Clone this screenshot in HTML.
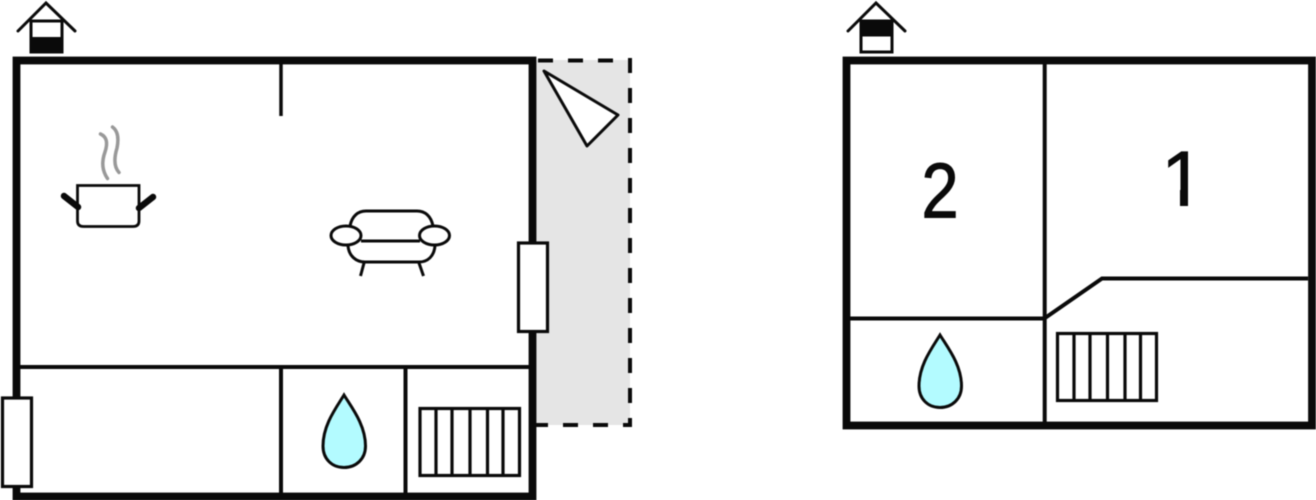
<!DOCTYPE html>
<html>
<head>
<meta charset="utf-8">
<style>
html,body{margin:0;padding:0;background:#fff;width:1316px;height:500px;overflow:hidden}
svg{display:block}
text{font-family:"Liberation Sans",sans-serif;fill:#0a0a0a}
</style>
</head>
<body>
<svg width="1316" height="500" viewBox="0 0 1316 500" xmlns="http://www.w3.org/2000/svg">
<defs>
  <clipPath id="oneClip"><rect x="1150" y="140" width="38" height="58"/></clipPath>
</defs>
<g style="filter:blur(0.4px)" fill="none" stroke="#0a0a0a" stroke-linejoin="miter">
  <!-- Balcony -->
  <rect x="536" y="60" width="94" height="365" fill="#e5e5e5" stroke="none"/>
  <path d="M538 60.500H630" stroke-width="4" stroke-dasharray="15 15"/>
  <path d="M630 58V425" stroke-width="4" stroke-dasharray="15 15"/>
  <path d="M536 425H548M563 425H578M593 425H608M623 425H632" stroke-width="4"/>
  <polygon points="544,71 618,115 587,146" fill="#fff" stroke-width="3" stroke-linejoin="round"/>

  <!-- Left plan interior -->
  <path d="M20 367H529" stroke-width="4"/>
  <path d="M281 367V493M405.500 367V493" stroke-width="4"/>
  <path d="M281 64V116" stroke-width="3.500"/>
  <!-- Left plan walls -->
  <rect x="16.500" y="60.500" width="516" height="436" stroke-width="7.800"/>

  <!-- Doors -->
  <rect x="518.500" y="243" width="29" height="88.500" fill="#fff" stroke-width="3.200"/>
  <rect x="2.500" y="398" width="29" height="88.500" fill="#fff" stroke-width="3.200"/>

  <!-- Left house icon -->
  <path d="M18 31L46 3L75 31" stroke-width="3" stroke-linecap="round"/>
  <rect x="31" y="21" width="31" height="31" fill="#fff" stroke-width="3"/>
  <rect x="30" y="37" width="33" height="16" fill="#0a0a0a" stroke="none"/>

  <!-- Pot -->
  <path d="M77.500 185.500H139V221Q139 226.500 133 226.500H83.500Q77.500 226.500 77.500 221Z" fill="#fff" stroke-width="2.800"/>
  <path d="M64 196L78 207" stroke-width="6.500" stroke-linecap="round"/>
  <path d="M153 197L139 208" stroke-width="6.500" stroke-linecap="round"/>
  <path d="M100.500 134C107 137 108 143 105 152C101 163 103 172 107.500 178.500" stroke="#999" stroke-width="3.500" stroke-linecap="round"/>
  <path d="M112.500 127C118 131 119 138 117 148C114 158 114 167 119 172.500" stroke="#999" stroke-width="3.500" stroke-linecap="round"/>

  <!-- Sofa -->
  <path d="M350 226C352 216 358 211 366 211H417C425 211 431 216 433 226" stroke-width="3"/>
  <path d="M348 246C349 256 356 262 365 262H419C428 262 434 256 435 246" stroke-width="3"/>
  <path d="M361 241H420" stroke-width="3"/>
  <ellipse cx="346" cy="235.500" rx="15" ry="9.500" fill="#fff" stroke-width="3"/>
  <ellipse cx="434.500" cy="235.500" rx="15" ry="9.500" fill="#fff" stroke-width="3"/>
  <path d="M364 263L360.500 276M419 263L423.500 276" stroke-width="3"/>

  <!-- Left drop -->
  <path d="M344 395C336 408 323 425 323 446C323 459 332 467.500 344 467.500C356 467.500 365.500 459 365.500 446C365.500 425 352 408 344 395Z" fill="#b3fbff" stroke-width="3"/>

  <!-- Left stairs -->
  <rect x="420" y="408.500" width="99.500" height="67" stroke-width="3.200"/>
  <path d="M436 408V476M452 408V476M470 408V476M487.500 408V476M503 408V476" stroke-width="3.200"/>

  <!-- Right plan interior -->
  <path d="M1044.700 64V422" stroke-width="4"/>
  <path d="M850 318.500H1045" stroke-width="4"/>
  <path d="M1045 318L1102 278.500H1308" stroke-width="4"/>
  <!-- Right plan walls -->
  <rect x="846.500" y="60.500" width="465.500" height="365" stroke-width="7.800"/>

  <!-- Right house icon -->
  <path d="M848 31L876 3L905 31" stroke-width="3" stroke-linecap="round"/>
  <rect x="861" y="21" width="31" height="31" fill="#fff" stroke-width="3"/>
  <rect x="860" y="20" width="33" height="16.500" fill="#0a0a0a" stroke="none"/>

  <!-- Right drop -->
  <path d="M940 335C932 348 919 365 919 386C919 399 928 407.500 940 407.500C952 407.500 961.500 399 961.500 386C961.500 365 948 348 940 335Z" fill="#b3fbff" stroke-width="3"/>

  <!-- Right stairs -->
  <rect x="1057.500" y="333.500" width="99" height="67" stroke-width="3.200"/>
  <path d="M1074 333V401M1090 333V401M1107.500 333V401M1125 333V401M1140.500 333V401" stroke-width="3.200"/>

  <!-- Labels -->
  <text transform="translate(940 217.500) scale(.86 1)" font-size="78" text-anchor="middle" stroke="#0a0a0a" stroke-width="1">2</text>
  <g clip-path="url(#oneClip)">
    <text x="1183" y="206" font-size="79" text-anchor="middle" stroke="#0a0a0a" stroke-width=".8">1</text>
  </g>
  <path d="M1184 190V206" stroke-width="8"/>
</g>
</svg>
</body>
</html>
